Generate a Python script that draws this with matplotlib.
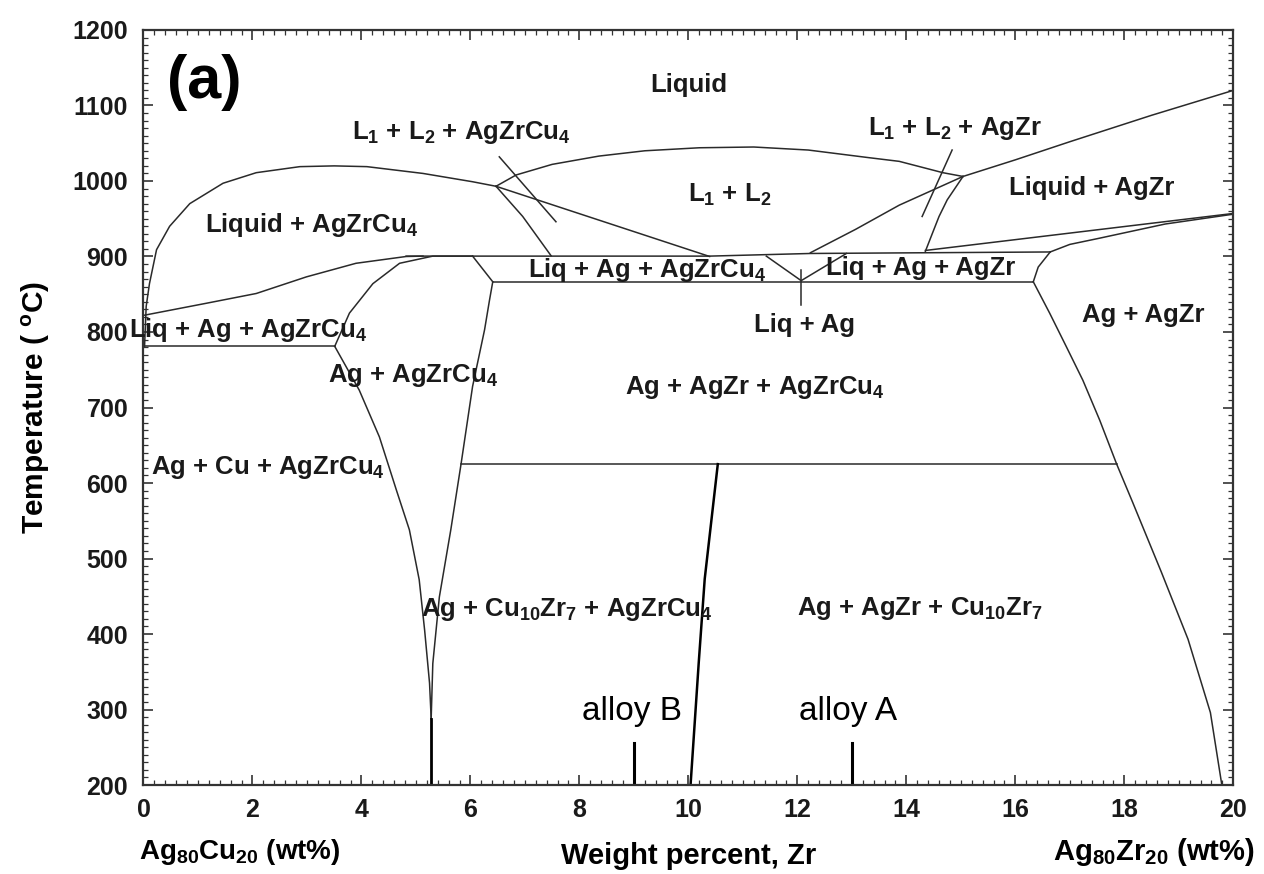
"""Ag80Cu20-Ag80Zr20 截面相图 (a) 的 Matplotlib 复刻。"""

import matplotlib

matplotlib.use("Agg")

import matplotlib.pyplot as plt
from matplotlib.ticker import MultipleLocator

FONT = ["Liberation Sans", "DejaVu Sans"]
LINE_COLOR = "#2a2a2a"
TEXT_COLOR = "#1a1a1a"

# 相界线数据：横坐标 wt% Zr，纵坐标 °C
liquidus_agzrcu4_x = [0.02, 0.05, 0.11, 0.24, 0.48, 0.85, 1.46, 2.07, 2.87, 3.5, 4.1, 5.13, 6.04, 6.47]
liquidus_agzrcu4_t = [781, 834, 864, 909, 940, 970, 997, 1011, 1019, 1020, 1019, 1010, 999, 993]

miscibility_left_x = [6.47, 10.39]
miscibility_left_t = [993, 900]

miscibility_dome_x = [6.47, 6.84, 7.5, 8.36, 9.2, 10.2, 11.2, 12.2, 13.3, 13.87, 14.67, 15.04]
miscibility_dome_t = [993, 1008, 1022, 1033, 1040, 1044, 1045, 1041, 1031, 1026, 1011, 1006]

miscibility_right_x = [12.24, 13.07, 13.87, 15.04]
miscibility_right_t = [905, 936, 968, 1006]

liquidus_agzr_x = [15.04, 16.0, 17.0, 18.5, 20.0]
liquidus_agzr_t = [1006, 1028, 1052, 1087, 1120]

agzr_left_x = [15.04, 14.75, 14.6, 14.48, 14.35]
agzr_left_t = [1006, 975, 953, 931, 907]

agzrcu4_drop_x = [6.47, 6.96, 7.48]
agzrcu4_drop_t = [993, 953, 901]

band_top_x = [4.82, 10.39, 12.24, 16.64]
band_top_t = [900.5, 900.5, 904, 906]

band_left_x = [6.04, 6.41]
band_left_t = [900.5, 866.5]

band_bottom_x = [6.41, 16.33]
band_bottom_t = [866.5, 866.5]

band_right_x = [16.64, 16.42, 16.33]
band_right_t = [906, 886, 866.5]

liq_ag_v_x = [11.43, 12.07, 12.9]
liq_ag_v_t = [900.5, 868, 904]

liq_ag_stem_x = [12.07, 12.07]
liq_ag_stem_t = [882, 836]

solvus_agzr_x = [16.33, 16.63, 16.94, 17.24, 17.55, 17.86, 18.15, 18.68, 19.17, 19.58, 19.79]
solvus_agzr_t = [866.5, 825, 780, 736, 683, 625, 575, 482, 393, 296, 200]

liquid_agzr_low1_x = [14.35, 20.0]
liquid_agzr_low1_t = [908, 957]

liquid_agzr_low2_x = [16.64, 17.0, 17.53, 18.75, 19.9, 20.0]
liquid_agzr_low2_t = [906, 916, 924, 943, 955, 956]

left_band_top_x = [0.0, 1.15, 2.07, 2.99, 3.9, 4.82, 5.13]
left_band_top_t = [822, 838, 851, 873, 891, 900, 900.5]

eutectic_780_x = [0.0, 3.51]
eutectic_780_t = [781, 781]

ag_agzrcu4_dome_x = [3.51, 3.78, 4.21, 4.7, 5.31, 6.04]
ag_agzrcu4_dome_t = [781, 825, 864, 891, 900.5, 900.5]

v_left_x = [3.51, 3.96, 4.33, 4.64, 4.88, 5.06, 5.16, 5.25, 5.28]
v_left_t = [781, 723, 661, 591, 538, 472, 405, 335, 288]

v_right_x = [6.41, 6.35, 6.26, 6.04, 5.83, 5.64, 5.43, 5.31, 5.28]
v_right_t = [866.5, 842, 803, 728, 626, 538, 449, 361, 288]

v_stem_x = [5.28, 5.28]
v_stem_t = [288, 200]

eutectoid_625_x = [5.83, 17.86]
eutectoid_625_t = [625, 625]

cu10zr7_x = [10.54, 10.3, 10.19, 10.04]
cu10zr7_t = [625, 473, 362, 200]

pointer_cu4_x = [6.53, 7.57]
pointer_cu4_t = [1032, 946]

pointer_agzr_x = [14.84, 14.29]
pointer_agzr_t = [1041, 953]

alloy_x = [9.0, 13.0]
alloy_label_x = [8.97, 12.93]
alloy_names = ["alloy B", "alloy A"]
alloy_top = 255

# 区域标注
region_texts = [
    "Liquid",
    r"L$\mathregular{_1}$ + L$\mathregular{_2}$ + AgZrCu$\mathregular{_4}$",
    r"L$\mathregular{_1}$ + L$\mathregular{_2}$ + AgZr",
    r"Liquid + AgZrCu$\mathregular{_4}$",
    r"L$\mathregular{_1}$ + L$\mathregular{_2}$",
    "Liquid + AgZr",
    r"Liq + Ag + AgZrCu$\mathregular{_4}$",
    "Liq + Ag + AgZr",
    r"Liq + Ag + AgZrCu$\mathregular{_4}$",
    "Liq + Ag",
    "Ag + AgZr",
    r"Ag + AgZrCu$\mathregular{_4}$",
    r"Ag + AgZr + AgZrCu$\mathregular{_4}$",
    r"Ag + Cu + AgZrCu$\mathregular{_4}$",
    r"Ag + Cu$\mathregular{_{10}}$Zr$\mathregular{_7}$ + AgZrCu$\mathregular{_4}$",
    r"Ag + AgZr + Cu$\mathregular{_{10}}$Zr$\mathregular{_7}$",
]
region_x = [10.0, 5.83, 14.89, 3.09, 10.76, 17.4, 9.24, 14.27, 1.92, 12.14,
            18.34, 4.95, 11.22, 2.29, 7.77, 14.25]
region_t = [1127, 1064, 1070, 942, 981, 991, 882, 885, 803, 809,
            822, 743, 726, 620, 432, 434]

x_ticks = list(range(0, 21, 2))
y_ticks = list(range(200, 1201, 100))


figure = plt.figure(figsize=(12.64, 8.74), dpi=100)
axis = figure.add_axes([0.1135, 0.1018, 0.8622, 0.8639])

boundaries = [
    (liquidus_agzrcu4_x, liquidus_agzrcu4_t),
    (miscibility_left_x, miscibility_left_t),
    (miscibility_dome_x, miscibility_dome_t),
    (miscibility_right_x, miscibility_right_t),
    (liquidus_agzr_x, liquidus_agzr_t),
    (agzr_left_x, agzr_left_t),
    (agzrcu4_drop_x, agzrcu4_drop_t),
    (band_top_x, band_top_t),
    (band_left_x, band_left_t),
    (band_bottom_x, band_bottom_t),
    (band_right_x, band_right_t),
    (liq_ag_v_x, liq_ag_v_t),
    (liq_ag_stem_x, liq_ag_stem_t),
    (solvus_agzr_x, solvus_agzr_t),
    (liquid_agzr_low1_x, liquid_agzr_low1_t),
    (liquid_agzr_low2_x, liquid_agzr_low2_t),
    (left_band_top_x, left_band_top_t),
    (eutectic_780_x, eutectic_780_t),
    (ag_agzrcu4_dome_x, ag_agzrcu4_dome_t),
    (v_left_x, v_left_t),
    (v_right_x, v_right_t),
    (eutectoid_625_x, eutectoid_625_t),
    (pointer_cu4_x, pointer_cu4_t),
    (pointer_agzr_x, pointer_agzr_t),
]
for xs, ts in boundaries:
    axis.plot(xs, ts, color=LINE_COLOR, linewidth=1.1)

axis.plot(v_stem_x, v_stem_t, color="black", linewidth=2.0)
axis.plot(cu10zr7_x, cu10zr7_t, color="black", linewidth=1.8)

for x_value, label_x, name in zip(alloy_x, alloy_label_x, alloy_names):
    axis.plot([x_value, x_value], [200, alloy_top], color="black", linewidth=2.2)
    axis.text(label_x, 297, name, family=FONT, fontsize=24,
              ha="center", va="center")

for text, x_value, t_value in zip(region_texts, region_x, region_t):
    axis.text(x_value, t_value, text, family=FONT, fontsize=18.5,
              fontweight="bold", ha="center", va="center", color=TEXT_COLOR)

axis.text(1.11, 1131, "(a)", family=FONT, fontsize=44, fontweight="bold",
          ha="center", va="center")

axis.set_xlim(0, 20)
axis.set_ylim(200, 1200)
axis.set_xticks(x_ticks)
axis.set_yticks(y_ticks)
axis.xaxis.set_minor_locator(MultipleLocator(0.2))
axis.yaxis.set_minor_locator(MultipleLocator(10))
axis.tick_params(which="both", direction="in", top=True, right=True,
                 color="#333333")
axis.tick_params(which="major", length=7, width=1.2)
axis.tick_params(axis="y", which="major", pad=11)
axis.tick_params(axis="x", which="major", pad=9)
axis.tick_params(which="minor", length=3.5, width=0.9)
for label in axis.get_xticklabels() + axis.get_yticklabels():
    label.set_family(FONT)
    label.set_fontweight("bold")
    label.set_fontsize(18)
    label.set_color(TEXT_COLOR)
for spine in axis.spines.values():
    spine.set_linewidth(1.6)
    spine.set_color("#333333")

axis.set_ylabel("Temperature ( $\\mathregular{^o}$C)", family=FONT,
                fontsize=21.5, fontweight="bold", labelpad=15)
axis.set_xlabel("Weight percent, Zr", family=FONT, fontsize=21,
                fontweight="bold", labelpad=15)

figure.text(0.110, 0.025, r"Ag$\mathregular{_{80}}$Cu$\mathregular{_{20}}$ (wt%)",
            family=FONT, fontsize=20, fontweight="bold", ha="left",
            va="center")
figure.text(0.993, 0.025, r"Ag$\mathregular{_{80}}$Zr$\mathregular{_{20}}$ (wt%)",
            family=FONT, fontsize=21, fontweight="bold", ha="right",
            va="center")

figure.savefig("out.png", dpi=100)
plt.close(figure)
